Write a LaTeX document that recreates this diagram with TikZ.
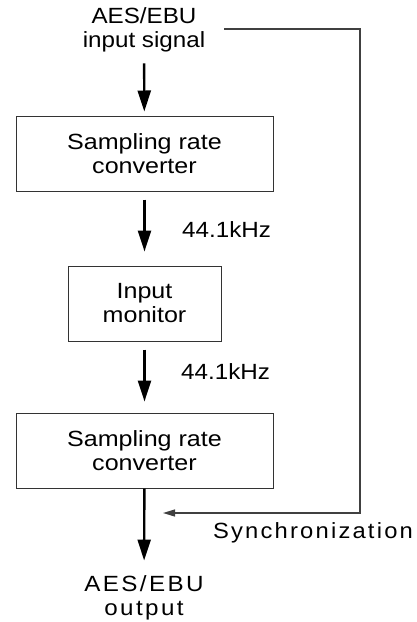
\documentclass[tikz,border=0pt]{standalone}
\usepackage{fontspec}
\setmainfont{Liberation Sans}[FakeStretch=1.1]
\newfontfamily\boxfont{Liberation Sans}[FakeStretch=1.14]
\newfontfamily\spacedfont{Liberation Sans}[FakeStretch=1.08,LetterSpace=10]
\newfontfamily\outfont{Liberation Sans}[FakeStretch=1.1,LetterSpace=11]
\usetikzlibrary{arrows.meta,positioning,calc}

\begin{document}
\begin{tikzpicture}[
    x=1pt,y=-1pt,
    box/.style={rectangle,draw=black!80,line width=1pt,minimum width=257pt,minimum height=75pt,align=center,inner sep=0pt,font=\boxfont\fontsize{22}{24}\selectfont},
    lbl/.style={align=center,inner sep=0pt,font=\fontsize{22}{24}\selectfont},
    flow/.style={line width=2.4pt,-{Triangle[length=21pt,width=13pt]}},
    sync/.style={line width=1.2pt,draw=black!75,-{Triangle[length=12pt,width=7pt]}}
]
    \useasboundingbox (0,0) rectangle (416,622);

    \node[lbl] (src) at (144,30) {AES/EBU\\input signal};
    \node[box] (conv1) at (144.5,153.5) {Sampling rate\\converter};
    \node[box,minimum width=153pt] (mon) at (144.5,303.5) {Input\\monitor};
    \node[box] (conv2) at (144.5,450.5) {Sampling rate\\converter};
    \node[lbl,font=\outfont\fontsize{22}{24}\selectfont] (dst) at (144,598) {AES/EBU\\output};

    \draw[flow,shorten <=11pt,shorten >=4pt] (src) -- (conv1);
    \draw[flow,shorten <=8pt,shorten >=14pt] (conv1) -- (mon);
    \draw[flow,shorten <=8pt,shorten >=11pt] (mon) -- (conv2);
    \draw[flow,shorten >=15pt] (conv2) -- (dst);

    % Clock rates
    \node[lbl,anchor=west] (rate1) at (182,229.5) {44.1kHz};
    \node[lbl,anchor=west] (rate2) at (181,372) {44.1kHz};

    % Sync loop
    \coordinate (syncstart) at (224,29);
    \coordinate (syncend) at (163,513);
    \draw[sync] (syncstart) -- ++(136,0) |- (syncend);
    \node[lbl,font=\spacedfont\fontsize{22}{24}\selectfont] (synclbl) at (313,533) {Synchronization};
\end{tikzpicture}
\end{document}
